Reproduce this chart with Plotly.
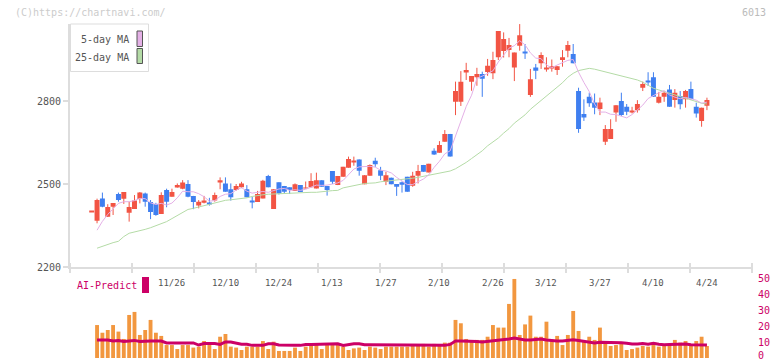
import plotly.graph_objects as go

# ---------------- data ----------------
dates = (["11/4", "11/5", "11/6", "11/7", "11/10", "11/11", "11/12", "11/13", "11/14", "11/17",
          "11/18", "11/19", "11/20", "11/21", "11/25", "11/26", "11/27", "11/28"] +
         ["12/1", "12/2", "12/3", "12/4", "12/5", "12/8", "12/9", "12/10", "12/11", "12/12",
          "12/15", "12/16", "12/17", "12/18", "12/19", "12/22", "12/23", "12/24", "12/25", "12/26",
          "12/29", "12/30"] +
         ["1/5", "1/6", "1/7", "1/8", "1/9", "1/13", "1/14", "1/15", "1/16", "1/19", "1/20", "1/21",
          "1/22", "1/23", "1/26", "1/27", "1/28", "1/29", "1/30"] +
         ["2/2", "2/3", "2/4", "2/5", "2/6", "2/9", "2/10", "2/12", "2/13", "2/16", "2/17", "2/18",
          "2/19", "2/20", "2/24", "2/25", "2/26", "2/27"] +
         ["3/2", "3/3", "3/4", "3/5", "3/6", "3/9", "3/10", "3/11", "3/12", "3/13", "3/16", "3/17",
          "3/18", "3/19", "3/23", "3/24", "3/25", "3/26", "3/27", "3/30", "3/31"] +
         ["4/1", "4/2", "4/3", "4/6", "4/7", "4/8", "4/9", "4/10", "4/13", "4/14", "4/15", "4/16",
          "4/17", "4/20", "4/21", "4/22", "4/23", "4/24"])

opens = [2398, 2367, 2448, 2382, 2418, 2464, 2447, 2396, 2410, 2446,
         2466, 2435, 2428, 2392, 2478, 2454, 2487, 2483, 2500, 2457,
         2422, 2432, 2430, 2440, 2505, 2502, 2481, 2478, 2488, 2481,
         2437, 2435, 2448, 2529, 2410, 2506, 2493, 2488, 2475, 2496,
         2484, 2488, 2484, 2514, 2493, 2547, 2496, 2526, 2559, 2578,
         2589, 2499, 2530, 2584, 2550, 2508, 2523, 2500, 2506, 2526,
         2494, 2530, 2569, 2542, 2620, 2613, 2653, 2681, 2797, 2797,
         2906, 2870, 2886, 2898, 2905, 2900, 2958, 2981, 2984, 2921,
         3000, 2977, 2822, 2921, 2936, 2915, 2920, 2912, 2948, 2982,
         2970, 2836, 2753, 2815, 2795, 2771, 2653, 2663, 2758, 2800,
         2779, 2759, 2767, 2848, 2873, 2886, 2794, 2815, 2842, 2804,
         2818, 2806, 2843, 2779, 2728, 2783]
highs = [2398, 2447, 2469, 2427, 2431, 2469, 2471, 2436, 2460, 2471,
         2469, 2442, 2432, 2470, 2483, 2483, 2502, 2514, 2514, 2457,
         2442, 2457, 2450, 2469, 2524, 2524, 2502, 2500, 2508, 2496,
         2454, 2475, 2515, 2533, 2481, 2506, 2493, 2488, 2502, 2496,
         2509, 2539, 2541, 2514, 2493, 2547, 2529, 2562, 2599, 2599,
         2589, 2532, 2571, 2595, 2562, 2544, 2523, 2500, 2509, 2526,
         2544, 2569, 2569, 2573, 2629, 2655, 2695, 2681, 2870, 2908,
         2938, 2890, 2920, 2906, 2952, 2978, 3053, 3048, 3028, 2975,
         3078, 3006, 2916, 2934, 2976, 2958, 2950, 2926, 2984, 3017,
         3006, 2848, 2806, 2830, 2827, 2812, 2713, 2734, 2785, 2830,
         2789, 2779, 2803, 2870, 2904, 2904, 2833, 2834, 2858, 2843,
         2836, 2840, 2870, 2794, 2776, 2812]
lows = [2398, 2358, 2416, 2381, 2388, 2436, 2428, 2364, 2410, 2430,
        2418, 2373, 2385, 2392, 2416, 2454, 2487, 2481, 2452, 2409,
        2412, 2430, 2422, 2436, 2481, 2472, 2440, 2476, 2485, 2452,
        2412, 2435, 2448, 2488, 2410, 2462, 2464, 2464, 2475, 2471,
        2484, 2488, 2484, 2490, 2458, 2500, 2496, 2526, 2559, 2566,
        2530, 2499, 2530, 2562, 2514, 2496, 2499, 2457, 2469, 2472,
        2490, 2502, 2544, 2542, 2605, 2613, 2653, 2599, 2749, 2782,
        2876, 2837, 2855, 2815, 2891, 2879, 2948, 2957, 2958, 2872,
        2982, 2952, 2815, 2879, 2916, 2906, 2906, 2894, 2924, 2958,
        2936, 2685, 2728, 2779, 2752, 2749, 2641, 2663, 2725, 2746,
        2749, 2755, 2758, 2836, 2854, 2815, 2791, 2797, 2779, 2776,
        2770, 2776, 2804, 2740, 2707, 2767]
closes = [2398, 2442, 2418, 2417, 2431, 2442, 2471, 2417, 2440, 2469,
          2436, 2399, 2388, 2460, 2436, 2471, 2496, 2505, 2454, 2435,
          2436, 2440, 2427, 2460, 2514, 2472, 2452, 2493, 2502, 2452,
          2434, 2464, 2512, 2488, 2481, 2466, 2472, 2478, 2499, 2471,
          2487, 2511, 2514, 2490, 2478, 2508, 2529, 2562, 2590, 2583,
          2548, 2532, 2569, 2571, 2530, 2532, 2499, 2490, 2497, 2472,
          2530, 2547, 2544, 2573, 2607, 2641, 2681, 2599, 2836, 2870,
          2912, 2890, 2898, 2880, 2927, 2948, 3053, 3024, 3002, 2975,
          3038, 2975, 2879, 2909, 2966, 2921, 2926, 2926, 2958, 3002,
          2936, 2699, 2740, 2792, 2776, 2795, 2699, 2699, 2785, 2749,
          2761, 2763, 2789, 2861, 2870, 2815, 2815, 2830, 2779, 2830,
          2788, 2836, 2807, 2755, 2776, 2804]

ma5 = [None, 2333, 2365, 2390, 2412, 2430, 2436, 2436, 2440, 2448,
       2447, 2432, 2426, 2430, 2424, 2431, 2450, 2474, 2472, 2472,
       2465, 2454, 2438, 2440, 2455, 2463, 2465, 2478, 2487, 2474,
       2467, 2469, 2473, 2470, 2476, 2482, 2484, 2477, 2479, 2477,
       2481, 2489, 2496, 2495, 2496, 2500, 2504, 2513, 2533, 2554,
       2562, 2563, 2564, 2561, 2550, 2547, 2540, 2524, 2510, 2498,
       2498, 2507, 2518, 2533, 2560, 2582, 2609, 2620, 2673, 2725,
       2780, 2821, 2881, 2890, 2901, 2909, 2941, 2966, 2991, 3000,
       3018, 3003, 2974, 2955, 2953, 2930, 2920, 2930, 2939, 2947,
       2950, 2904, 2867, 2834, 2789, 2760, 2760, 2752, 2751, 2745,
       2739, 2751, 2769, 2785, 2809, 2820, 2830, 2838, 2822, 2814,
       2808, 2813, 2808, 2803, 2792, 2796]
ma25 = [None, 2268, 2275, 2282, 2288, 2293, 2310, 2322, 2326, 2331,
        2336, 2342, 2350, 2356, 2364, 2375, 2386, 2397, 2408, 2412,
        2417, 2421, 2425, 2430, 2436, 2441, 2443, 2445, 2447, 2450,
        2455, 2459, 2461, 2463, 2464, 2465, 2467, 2468, 2469, 2469,
        2470, 2470, 2470, 2471, 2474, 2476, 2477, 2486, 2490, 2494,
        2498, 2502, 2503, 2504, 2508, 2510, 2512, 2514, 2515, 2518,
        2521, 2524, 2528, 2532, 2535, 2539, 2543, 2547, 2555, 2565,
        2578, 2592, 2606, 2620, 2638, 2652, 2666, 2684, 2700, 2720,
        2736, 2750, 2770, 2786, 2800, 2815, 2832, 2850, 2866, 2886,
        2900, 2910, 2914, 2918, 2915, 2910, 2905, 2900, 2894, 2889,
        2885, 2880, 2876, 2868, 2858, 2846, 2840, 2834, 2828, 2822,
        2816, 2810, 2804, 2798, 2792, 2789]

volume = [None, 20.6, 15.8, 17.5, 20.6, 16.5, 11.9, 26.9, 28.8, 14.4,
          17.5, 23.8, 15.8, 13.8, 8.1, 8.1, 5.6, 8.1, 8.1, 6.5,
          7.1, 10.6, 8.1, 5.6, 13.3, 15.0, 7.1, 6.5, 5.0, 7.1,
          7.1, 7.1, 10.6, 5.6, 10.2, 4.4, 4.4, 4.4, 6.5, 4.4,
          7.1, 8.1, 8.1, 5.6, 8.1, 8.1, 9.2, 7.1, 5.0, 6.0,
          6.5, 5.0, 7.1, 6.5, 5.6, 7.1, 7.1, 7.1, 7.1, 7.1,
          8.1, 8.1, 8.8, 7.1, 8.8, 7.5, 9.6, 9.6, 23.8, 21.7,
          11.9, 10.6, 11.3, 11.3, 13.3, 20.6, 19.0, 19.0, 33.8, 49.4,
          14.4, 21.0, 26.5, 13.3, 13.3, 22.7, 11.3, 13.8, 8.1, 14.4,
          29.4, 16.9, 10.6, 13.3, 11.3, 19.0, 9.4, 7.5, 8.1, 9.4,
          5.0, 5.6, 6.5, 7.5, 7.1, 9.4, 7.1, 7.5, 8.1, 11.3,
          9.6, 10.6, 7.5, 10.6, 13.3, 7.5]
vol_ma = [None, 11.3, 11.3, 11.3, 10.6, 10.9, 10.3, 10.6, 11.0, 10.3,
          10.6, 10.6, 10.6, 10.6, 9.4, 9.4, 9.4, 9.4, 9.4, 9.4,
          8.1, 9.0, 9.0, 9.0, 8.5, 10.0, 10.0, 9.4, 8.6, 8.6,
          7.9, 7.9, 7.9, 8.9, 8.9, 8.1, 7.9, 7.9, 7.9, 7.9,
          8.5, 8.5, 8.5, 8.9, 8.9, 8.9, 8.9, 7.9, 8.5, 8.9,
          8.9, 8.3, 8.3, 8.3, 8.3, 7.9, 7.9, 7.9, 7.9, 7.9,
          7.9, 7.9, 7.9, 7.9, 7.9, 7.9, 7.9, 8.5, 10.6, 10.6,
          10.6, 10.3, 10.3, 10.0, 10.3, 10.6, 11.0, 11.3, 11.9, 12.5,
          11.9, 11.3, 11.3, 11.5, 11.9, 11.3, 10.9, 10.6, 10.6, 10.9,
          11.4, 11.0, 10.6, 10.0, 9.4, 9.8, 9.8, 10.0, 9.6, 9.6,
          9.2, 8.7, 8.7, 9.0, 8.6, 9.2, 8.6, 8.3, 8.5, 8.7,
          8.7, 8.7, 8.3, 8.3, 8.5, 8.1]

tick_labels = ["11/26", "12/10", "12/24", "1/13", "1/27", "2/10", "2/26", "3/12", "3/27", "4/10", "4/24"]
price_ticks = [2200, 2500, 2800]
vol_ticks = [0, 10, 20, 30, 40, 50]

# ---------------- style / geometry ----------------
W, H = 772, 361
ML, MR, MT, MB = 70, 20, 10, 3
PX0, PX1 = ML, W - MR
PY0, PY1 = MT, H - MB
STEP = 5.35                       # px per trading day
FIRST_PX = 91.7                   # centre of first candle
RED, BLUE = "#f25444", "#3f7ff0"
PINK, GREEN = "#e4b0e6", "#b4dba6"
ORANGE, CRIMSON = "#f2973f", "#cc0066"
MONO = "DejaVu Sans Mono"


def px_to_px(px):
    return (px - PX0) / (PX1 - PX0)


def py_to_py(py):
    return (PY1 - py) / (PY1 - PY0)


x_lo = (PX0 - FIRST_PX) / STEP
x_hi = (PX1 - FIRST_PX) / STEP
price_bottom_py, price_top_py, price_per_px = 267, 23.5, 300 / 83
price_top = 2200 + (price_bottom_py - price_top_py) * price_per_px
vol_top_py = 278

fig = go.Figure()

# candle bodies and wicks
for up, col in ((True, RED), (False, BLUE)):
    bx, bbase, bh = [], [], []
    wx, wy = [], []
    for d, o, h, l, c in zip(dates, opens, highs, lows, closes):
        if (c >= o) != up:
            continue
        bx.append(d)
        bbase.append(min(o, c))
        bh.append(max(abs(c - o), 3))
        if h > l:
            wx += [d, d, None]
            wy += [l, h, None]
    fig.add_trace(go.Scatter(x=wx, y=wy, mode="lines", line=dict(color=col, width=1),
                             hoverinfo="skip", xaxis="x", yaxis="y"))
    fig.add_trace(go.Bar(x=bx, y=bh, base=bbase, width=0.93, marker=dict(color=col, line=dict(width=0)),
                         xaxis="x", yaxis="y"))

fig.add_trace(go.Scatter(x=dates, y=ma25, mode="lines", line=dict(color=GREEN, width=1), xaxis="x", yaxis="y"))
fig.add_trace(go.Scatter(x=dates, y=ma5, mode="lines", line=dict(color=PINK, width=1), xaxis="x", yaxis="y"))

# volume
fig.add_trace(go.Bar(x=dates, y=volume, width=0.72, marker=dict(color=ORANGE, line=dict(width=0)),
                     xaxis="x", yaxis="y2"))
fig.add_trace(go.Scatter(x=dates, y=vol_ma, mode="lines", line=dict(color=CRIMSON, width=3),
                         xaxis="x", yaxis="y2"))

shapes = []
annotations = []

# bottom axis tick marks every 62 px
tp = PX0
while tp <= PX1 + 0.5:
    shapes.append(dict(type="line", xref="paper", yref="paper", x0=px_to_px(tp), x1=px_to_px(tp),
                       y0=py_to_py(263), y1=py_to_py(273), line=dict(color="#dddddd", width=2)))
    tp += 62

# date labels
for lab in tick_labels:
    annotations.append(dict(x=lab, xref="x", y=py_to_py(283), yref="paper", text=lab, showarrow=False,
                            font=dict(family=MONO, size=9, color="#555555"), xanchor="center", yanchor="middle"))

# volume axis labels (right side)
for v in vol_ticks:
    annotations.append(dict(x=px_to_px(756), xref="paper", y=v, yref="y2", text=str(v), showarrow=False,
                            xanchor="left", yanchor="middle", yshift=2.5 if v == 0 else 0,
                            font=dict(family=MONO, size=10, color=CRIMSON)))

# legend box
shapes.append(dict(type="rect", xref="paper", yref="paper", x0=px_to_px(70.5), x1=px_to_px(148.5),
                   y0=py_to_py(71.5), y1=py_to_py(24), line=dict(color="#dddddd", width=1), fillcolor="white"))
for (y0, y1, col, lab, ty) in ((31, 46.5, PINK, "5-day MA", 40), (48.5, 63.5, GREEN, "25-day MA", 57)):
    shapes.append(dict(type="rect", xref="paper", yref="paper", x0=px_to_px(137), x1=px_to_px(142.5),
                       y0=py_to_py(y1), y1=py_to_py(y0), line=dict(color="#555555", width=1), fillcolor=col))
    annotations.append(dict(x=px_to_px(130.5), xref="paper", y=py_to_py(ty), yref="paper", text=lab,
                            showarrow=False, xanchor="right", yanchor="middle",
                            font=dict(family=MONO, size=10, color="#555555")))

# watermark / code
annotations.append(dict(x=px_to_px(13), xref="paper", y=py_to_py(12), yref="paper", text="(C)https://chartnavi.com/",
                        showarrow=False, xanchor="left", yanchor="middle", font=dict(family=MONO, size=10, color="#cccccc")))
annotations.append(dict(x=px_to_px(768), xref="paper", y=py_to_py(12), yref="paper", text="6013",
                        showarrow=False, xanchor="right", yanchor="middle", font=dict(family=MONO, size=10, color="#bbbbbb")))

# AI-Predict label
annotations.append(dict(x=px_to_px(75), xref="paper", y=py_to_py(285), yref="paper", text="AI-Predict",
                        showarrow=False, xanchor="left", yanchor="middle", font=dict(family=MONO, size=10, color=CRIMSON)))
shapes.append(dict(type="rect", xref="paper", yref="paper", x0=px_to_px(142), x1=px_to_px(149),
                   y0=py_to_py(293), y1=py_to_py(277), line=dict(width=0), fillcolor=CRIMSON))

fig.update_layout(
    width=W, height=H, margin=dict(l=ML, r=MR, t=MT, b=MB, autoexpand=False),
    paper_bgcolor="white", plot_bgcolor="white", showlegend=False, barmode="overlay",
    xaxis=dict(type="category", categoryorder="array", categoryarray=dates, range=[x_lo, x_hi],
               anchor="y", showline=True, linecolor="#dddddd", automargin=False,
               linewidth=2, showgrid=False, ticks="", showticklabels=False, zeroline=False),
    yaxis=dict(domain=[py_to_py(price_bottom_py), py_to_py(price_top_py)], range=[2200, price_top],
               tickvals=price_ticks,
               showline=True, linecolor="#dddddd", linewidth=2, ticks="outside", ticklen=5,
               tickcolor="#dddddd", tickwidth=2, showgrid=False, zeroline=False, automargin=False,
               tickfont=dict(family=MONO, size=10, color="#555555")),
    yaxis2=dict(domain=[0, py_to_py(vol_top_py)], range=[0, 50], side="right",
                anchor="x", showline=False, showgrid=False, zeroline=False, ticks="", automargin=False,
                showticklabels=False),
    shapes=shapes, annotations=annotations,
)

fig.write_html("out.html", config={"displayModeBar": False, "responsive": False},
               post_script="document.body.style.margin='0';document.body.style.overflow='hidden';")
